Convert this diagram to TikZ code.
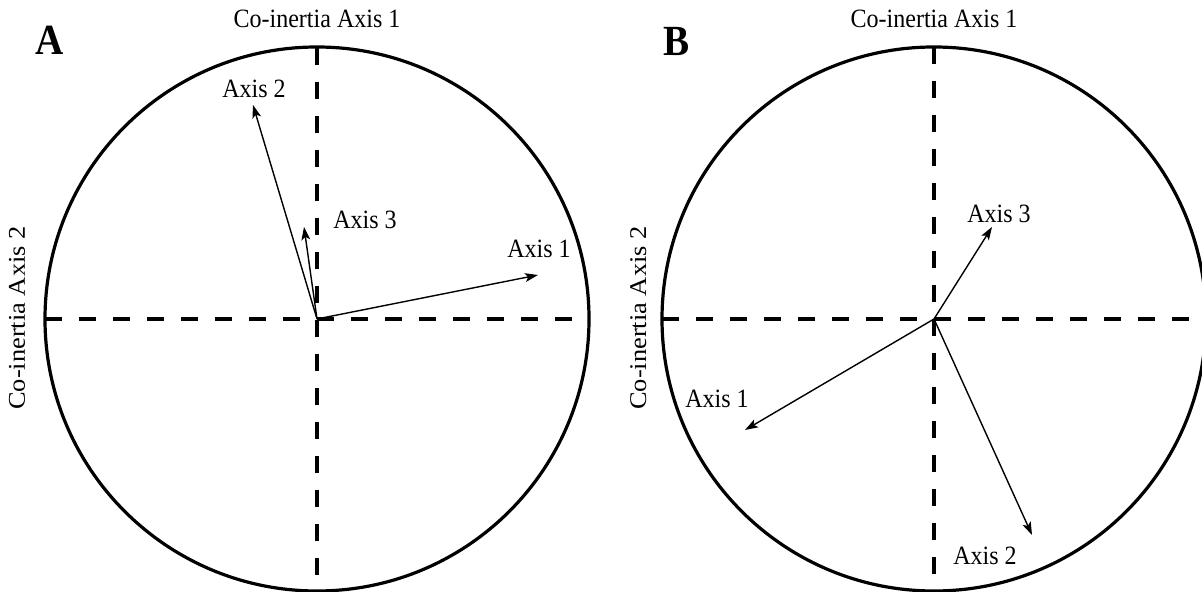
\documentclass[tikz,border=0pt]{standalone}
\usepackage{fontspec}
\setmainfont{Liberation Serif}
\usetikzlibrary{arrows.meta}
\begin{document}
\begin{tikzpicture}[x=0.5pt,y=-0.5pt,
  rim/.style={line width=1.6pt},
  axisline/.style={line width=1.7pt, dash pattern=on 8.5pt off 8.5pt},
  vec/.style={line width=0.7pt, -{Stealth[length=6.5pt,width=4.4pt,inset=1.5pt]}},
  lbl/.style={font=\fontsize{13.2}{15}\selectfont, xscale=0.91, anchor=base, inner sep=0pt},
  panel/.style={font=\fontsize{21.5}{24}\selectfont\bfseries, xscale=0.91, anchor=base, inner sep=0pt}]

\fill[white] (0,0) rectangle (1202,592);
\useasboundingbox (0,0) rectangle (1202,592);

% ---------- Panel A ----------
\coordinate (oA) at (317,319);
\coordinate (Atop) at (317,48);
\coordinate (Abot) at (317,591);
\coordinate (Aleft) at (45,319);
\coordinate (Aright) at (589,319);
\draw[rim] (oA) circle[radius=136pt];
\draw[axisline] (Atop) -- (Abot);
\draw[axisline] (Aleft) -- (Aright);

\coordinate (a1) at (538,275);
\coordinate (a2) at (253,105);
\coordinate (a3) at (304,227);
\draw[vec] (oA) -- (a1);
\draw[vec] (oA) -- (a2);
\draw[vec] (oA) -- (a3);

\node[lbl] (la1) at (539,258) {Axis 1};
\node[lbl] (la2) at (254,98) {Axis 2};
\node[lbl] (la3) at (365,229) {Axis 3};
\node[lbl] (tA1) at (317,28) {Co-inertia Axis 1};
\node[lbl, rotate=90] (tA2) at (25,318) {Co-inertia Axis 2};
\node[panel] (pA) at (50,55) {A};

% ---------- Panel B ----------
\coordinate (oB) at (934,319);
\coordinate (Btop) at (934,47);
\coordinate (Bbot) at (934,591);
\coordinate (Bleft) at (662,319);
\coordinate (Bright) at (1206,319);
\draw[rim] (oB) circle[radius=136pt];
\draw[axisline] (Btop) -- (Bbot);
\draw[axisline] (Bleft) -- (Bright);

\coordinate (b1) at (745,430);
\coordinate (b2) at (1032,535);
\coordinate (b3) at (992,227);
\draw[vec] (oB) -- (b1);
\draw[vec] (oB) -- (b2);
\draw[vec] (oB) -- (b3);

\node[lbl] (lb1) at (717,408) {Axis 1};
\node[lbl] (lb2) at (985,564) {Axis 2};
\node[lbl] (lb3) at (999,223) {Axis 3};
\node[lbl] (tB1) at (934,28) {Co-inertia Axis 1};
\node[lbl, rotate=90] (tB2) at (646,318) {Co-inertia Axis 2};
\node[panel] (pB) at (677,56) {B};
\end{tikzpicture}
\end{document}
